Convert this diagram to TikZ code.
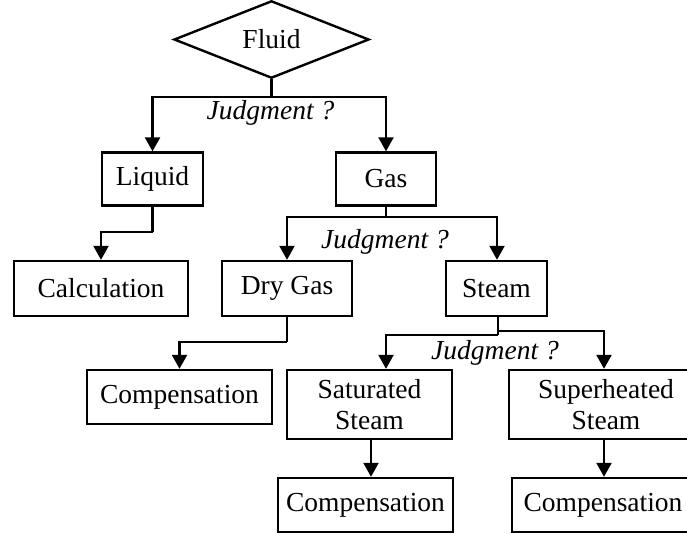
\documentclass[tikz,border=0pt]{standalone}
\usepackage{fontspec}
\setmainfont{Liberation Serif}
\usetikzlibrary{shapes.geometric,arrows.meta}
\begin{document}
\begin{tikzpicture}[x=1pt,y=1pt,
  every node/.style={font=\fontsize{27.5}{31}\selectfont},
  box/.style={draw,line width=2.4pt,rectangle,inner sep=0pt,align=center},
  lbl/.style={font=\fontsize{27.5}{31}\selectfont\itshape,inner sep=0pt},
  conn/.style={line width=2.4pt},
  arr/.style={line width=2.4pt,-{Triangle[width=15pt,length=14pt]}}]
\useasboundingbox (0,0) rectangle (687,-533);
\clip (0,0) rectangle (687,-533);
\node[draw,line width=2.4pt,diamond,inner sep=0pt,minimum width=195pt,minimum height=63pt] (fluid) at (271.5,-39.5) {Fluid};
\node[box,minimum width=101pt,minimum height=53pt] (liquid) at (152.5,-179) {Liquid};
\node[box,minimum width=100pt,minimum height=53pt] (gas) at (386,-179) {Gas};
\node[box,minimum width=174pt,minimum height=55pt] (calc) at (101,-288.5) {Calculation};
\node[box,minimum width=130pt,minimum height=55pt] (dry) at (287,-288.5) {Dry Gas};
\node[box,minimum width=101pt,minimum height=55pt] (steam) at (496.5,-288.5) {Steam};
\node[box,minimum width=185pt,minimum height=54pt] (comp1) at (179.5,-397) {Compensation};
\node[box,minimum width=165pt,minimum height=69pt] (sat) at (369.5,-404.5) {Saturated\\Steam};
\node[box,minimum width=194pt,minimum height=69pt] (sup) at (606,-404.5) {Superheated\\Steam};
\node[box,minimum width=175pt,minimum height=54pt] (comp2) at (365.5,-505) {Compensation};
\node[box,minimum width=182pt,minimum height=54pt] (comp3) at (603,-505) {Compensation};
% labels
\node[lbl] (j1) at (270.5,-113) {Judgment ?};
\node[lbl] (j2) at (385,-242) {Judgment ?};
\node[lbl] (j3) at (495,-353) {Judgment ?};
% fork points
\coordinate (f1) at (271.5,-97);
\coordinate (f2) at (386,-217);
\coordinate (f3) at (498,-331);
\coordinate (f3b) at (498,-335);
\coordinate (l1) at (152.5,-232);
\coordinate (d1) at (287,-342);
% connectors
\draw[conn] (fluid.south) -- (f1);
\draw[arr] (f1) -| (liquid.north);
\draw[arr] (f1) -| (gas.north);
\draw[conn] (gas.south) -- (f2);
\draw[arr] (f2) -| (dry.north);
\draw[arr] (f2) -| ([xshift=0.5pt]steam.north);
\draw[conn] (liquid.south) -- (l1);
\draw[arr] (l1) -| (calc.north);
\draw[conn] (dry.south) -- (d1);
\draw[arr] (d1) -| (comp1.north);
\draw[conn] (steam.south -| f3) -- (f3b);
\draw[arr] (f3) -| ([xshift=-2pt]sup.north);
\draw[arr] (f3b) -| ([xshift=16.5pt]sat.north);
\draw[arr] ([xshift=1.5pt]sat.south) -- ([xshift=1.5pt]sat.south |- comp2.north);
\draw[arr] ([xshift=-2pt]sup.south) -- ([xshift=-2pt]sup.south |- comp3.north);
\end{tikzpicture}
\end{document}
